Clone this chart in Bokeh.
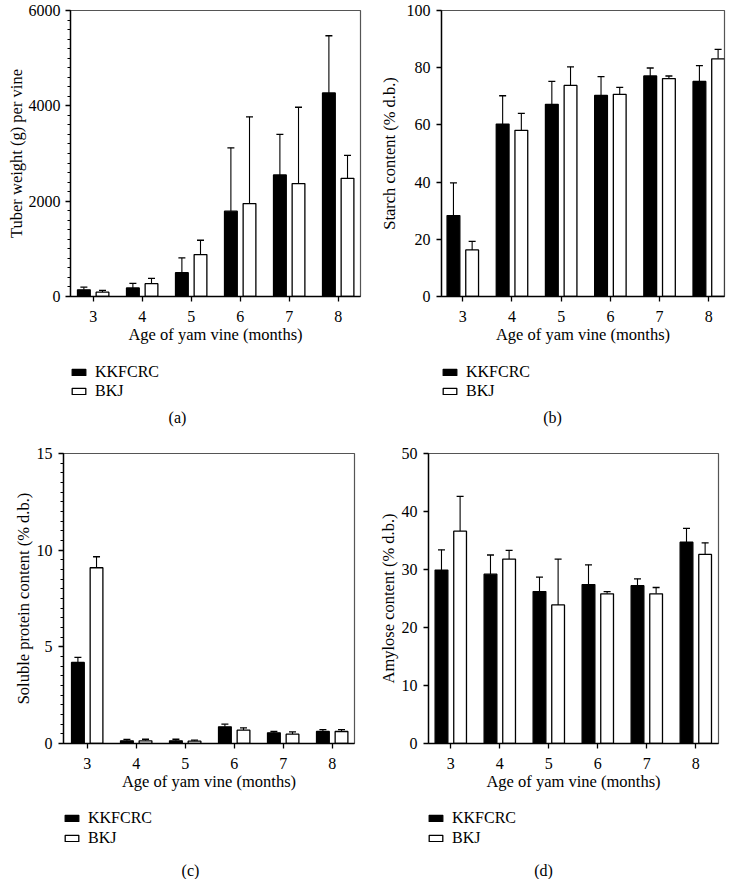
from bokeh.plotting import figure
from bokeh.models import Range1d, FixedTicker, Whisker, TeeHead, Legend, LegendItem, Label, ColumnDataSource
from bokeh.layouts import column, row
from bokeh.embed import file_html
from bokeh.resources import INLINE

# ---------------- data ----------------
months = [3, 4, 5, 6, 7, 8]
series_names = ["KKFCRC", "BKJ"]
x_title = "Age of yam vine (months)"

# (a) tuber weight (g) per vine
tuber_kk = [140, 180, 500, 1790, 2550, 4270]
tuber_kk_sd = [55, 95, 310, 1330, 850, 1200]
tuber_bkj = [90, 270, 880, 1950, 2370, 2480]
tuber_bkj_sd = [40, 110, 300, 1820, 1600, 480]

# (b) starch content (% d.b.)
starch_kk = [28.3, 60.3, 67.2, 70.3, 77.1, 75.2]
starch_kk_sd = [11.4, 9.9, 8.0, 6.6, 2.8, 5.5]
starch_bkj = [16.3, 58.1, 73.8, 70.7, 76.2, 83.1]
starch_bkj_sd = [3.0, 5.9, 6.5, 2.4, 0.9, 3.3]

# (c) soluble protein content (% d.b.)
protein_kk = [4.19, 0.14, 0.14, 0.86, 0.55, 0.62]
protein_kk_sd = [0.26, 0.07, 0.08, 0.14, 0.07, 0.10]
protein_bkj = [9.09, 0.14, 0.12, 0.69, 0.48, 0.62]
protein_bkj_sd = [0.57, 0.08, 0.05, 0.12, 0.12, 0.10]

# (d) amylose content (% d.b.)
amylose_kk = [29.9, 29.2, 26.2, 27.4, 27.2, 34.7]
amylose_kk_sd = [3.5, 3.3, 2.5, 3.4, 1.2, 2.4]
amylose_bkj = [36.6, 31.8, 23.9, 25.8, 25.8, 32.6]
amylose_bkj_sd = [6.0, 1.5, 7.9, 0.4, 1.1, 2.0]

FONT = "Liberation Serif"
BAR_OFF = 0.19
BAR_W = 0.26
STYLES = [dict(fill_color="black", line_color="black", line_width=1.3),
          dict(fill_color="white", line_color="black", line_width=1.3)]


def chart(ytitle, kk, kk_sd, bkj, bkj_sd, ymax, yticks, minor_step,
          xr, w, h, bl, br, bt, bb, ylab_standoff, ytick_standoff):
    p = figure(width=w, height=h, x_range=Range1d(*xr), y_range=Range1d(0, ymax),
               output_backend="svg", toolbar_location=None,
               min_border_left=bl, min_border_right=br,
               min_border_top=bt, min_border_bottom=bb)
    p.grid.visible = False
    p.outline_line_color = "#555555"
    p.outline_line_width = 1.2

    for (vals, sds, off), st in zip(((kk, kk_sd, -BAR_OFF), (bkj, bkj_sd, BAR_OFF)), STYLES):
        xs = [m + off for m in months]
        ups = [v + s for v, s in zip(vals, sds)]
        src = ColumnDataSource(dict(x=xs, top=vals, up=ups))
        p.vbar(x="x", top="top", bottom=0, width=BAR_W, source=src, **st)
        wk = Whisker(base="x", lower="top", upper="up", source=src,
                     line_color="black", line_width=1.1,
                     upper_head=TeeHead(size=7, line_color="black", line_width=1.3),
                     lower_head=None)
        p.add_layout(wk)

    for ax in (p.xaxis[0], p.yaxis[0]):
        ax.axis_line_width = 1.4
        ax.axis_line_color = "black"
        ax.major_tick_line_width = 1.3
        ax.major_tick_line_color = "black"
        ax.major_tick_in = 0
        ax.major_tick_out = 5
        ax.minor_tick_in = 0
        ax.minor_tick_out = 3
        ax.minor_tick_line_width = 1.2
        ax.minor_tick_line_color = "black"
        ax.major_label_text_font = FONT
        ax.major_label_text_font_size = "16px"
        ax.major_label_text_color = "black"
        ax.axis_label_text_font = FONT
        ax.axis_label_text_font_size = "16.5px"
        ax.axis_label_text_font_style = "normal"
        ax.axis_label_text_color = "black"

    p.xaxis.ticker = FixedTicker(ticks=months)
    p.xaxis.minor_tick_line_color = None
    p.xaxis.axis_label = x_title
    p.xaxis.major_label_standoff = 9
    p.xaxis.axis_label_standoff = 0

    if minor_step:
        n = int(round(ymax / minor_step))
        minors = [i * minor_step for i in range(n + 1)]
    else:
        minors = []
    p.yaxis.ticker = FixedTicker(ticks=yticks, minor_ticks=minors)
    if not minor_step:
        p.yaxis.minor_tick_line_color = None
    p.yaxis.axis_label = ytitle
    p.yaxis.major_label_standoff = ytick_standoff
    p.yaxis.axis_label_standoff = ylab_standoff
    return p


def legend_box(letter, w, h, bl, br, leg_x, leg_bottom, row_h, letter_x, letter_y):
    # the frame of this box is aligned with the chart's frame above it (same borders),
    # the ranges make one data unit one pixel of the figure
    p = figure(width=w, height=h, x_range=Range1d(bl, w - br), y_range=Range1d(0, h),
               x_axis_type=None, y_axis_type=None, output_backend="svg",
               toolbar_location=None, min_border_left=bl, min_border_right=br,
               min_border_top=0, min_border_bottom=0)
    p.grid.visible = False
    p.outline_line_color = None
    # legend proxies: one NaN row each, so nothing is drawn in the box itself
    rs = [p.vbar(x=[float("nan")], top=[float("nan")], width=BAR_W, **st) for st in STYLES]
    leg = Legend(items=[LegendItem(label=n, renderers=[r]) for n, r in zip(series_names, rs)],
                 location=(leg_x - bl, leg_bottom), orientation="vertical",
                 border_line_color=None, background_fill_alpha=0,
                 padding=0, margin=0, spacing=0,
                 glyph_width=17, glyph_height=8, label_height=row_h, label_standoff=8,
                 label_text_font=FONT, label_text_font_size="16px",
                 label_text_color="black", label_text_baseline="middle")
    p.add_layout(leg)
    p.add_layout(Label(x=letter_x, y=letter_y, text=letter, text_align="center",
                       text_baseline="middle", text_font=FONT, text_font_size="16px",
                       text_color="black"))
    return p


pa = chart("Tuber weight (g) per vine", tuber_kk, tuber_kk_sd, tuber_bkj, tuber_bkj_sd,
           6000, [0, 2000, 4000, 6000], 200, (2.537, 8.455),
           365, 352, 70, 5, 10, 56, 0, 5)
pb = chart("Starch content (% d.b.)", starch_kk, starch_kk_sd, starch_bkj, starch_bkj_sd,
           100, [0, 20, 40, 60, 80, 100], None, (2.567, 8.32),
           366, 352, 76, 7, 10, 56, 5, 6)
pc = chart("Soluble protein content (% d.b.)", protein_kk, protein_kk_sd, protein_bkj, protein_bkj_sd,
           15, [0, 5, 10, 15], 0.5, (2.516, 8.455),
           365, 371, 63, 11, 25, 56, 1, 6)
pd_ = chart("Amylose content (% d.b.)", amylose_kk, amylose_kk_sd, amylose_bkj, amylose_bkj_sd,
            50, [0, 10, 20, 30, 40, 50], None, (2.545, 8.463),
            366, 371, 63, 13, 25, 56, 1, 6)

la = legend_box("(a)", 365, 76, 70, 5, 70, 27.5, 19, 177, 11)
lb = legend_box("(b)", 366, 76, 76, 7, 76, 27.5, 19, 187, 11)
lc = legend_box("(c)", 365, 80, 63, 11, 63, 31, 20, 190, 9)
ld = legend_box("(d)", 366, 80, 63, 13, 62, 31, 20, 178, 9)

layout = column(row(column(pa, la), column(pb, lb)), row(column(pc, lc), column(pd_, ld)))
open("out.html", "w").write(file_html(layout, INLINE))
